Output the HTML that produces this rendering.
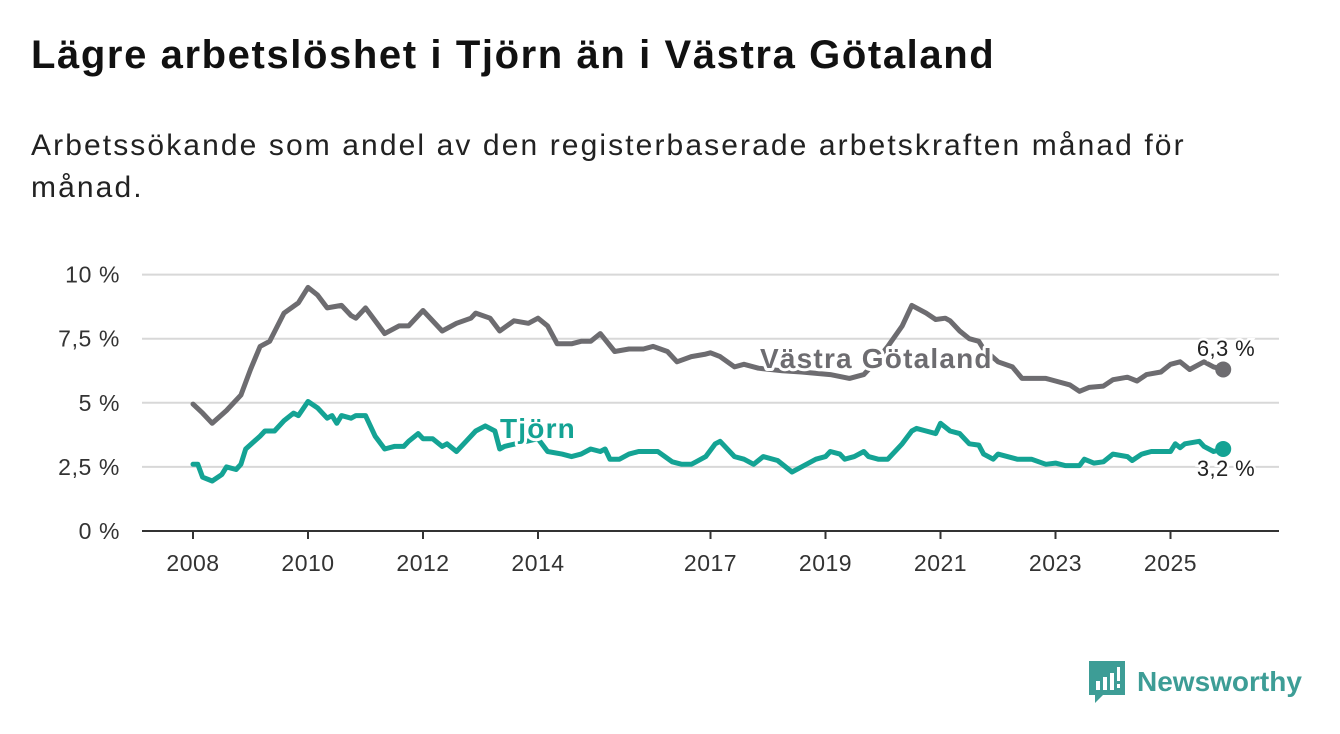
<!DOCTYPE html>
<html><head><meta charset="utf-8"><style>
body{margin:0;width:1340px;height:734px;background:#fff;font-family:"Liberation Sans",sans-serif;overflow:hidden;position:relative}
h1{position:absolute;left:31px;top:33px;margin:0;font-size:40px;letter-spacing:1.6px;font-weight:bold;color:#111;white-space:nowrap}
.sub{position:absolute;left:31px;top:125px;margin:0;font-size:30px;letter-spacing:2.1px;line-height:42px;color:#222;width:1200px}
svg{position:absolute;left:0;top:0}
.brand{position:absolute;left:1089px;top:661px;display:flex;align-items:center;color:#3d9d96;font-size:28px;font-weight:bold}
</style></head><body>
<h1>Lägre arbetslöshet i Tjörn än i Västra Götaland</h1>
<p class="sub">Arbetssökande som andel av den registerbaserade arbetskraften månad för månad.</p>
<svg id="chart" width="1340" height="734"></svg>
<div class="brand">
<svg width="36" height="42" style="position:static;margin-right:12px"><path d="M0 0H36V34H14L6 42V34H0Z" fill="#3d9d96"/><rect x="7" y="20" width="4" height="9" fill="#fff"/><rect x="14" y="16" width="4" height="13" fill="#fff"/><rect x="21" y="12" width="4" height="17" fill="#fff"/><rect x="28" y="6" width="3" height="14" fill="#fff"/><rect x="28" y="23" width="3" height="4" fill="#fff"/></svg>
<span>Newsworthy</span></div>
<script>
const yTicks=[0,2.5,5,7.5,10];
const yTickLabels=["0 %","2,5 %","5 %","7,5 %","10 %"];
const xTickYears=[2008,2010,2012,2014,2017,2019,2021,2023,2025];
const vgMonths=[0,2,4,7,10,12,14,16,19,22,24,26,28,31,33,34,36,40,43,45,48,52,55,58,59,62,64,67,70,72,74,76,79,81,83,85,88,91,94,96,99,101,104,107,108,110,113,115,118,123,127,133,137,140,142,145,148,150,153,155,157,158,160,162,164,165,168,171,173,178,180,183,185,187,190,192,195,197,199,202,204,206,208,211,213,215];
const vgValues=[4.95,4.6,4.2,4.7,5.3,6.3,7.2,7.4,8.5,8.9,9.5,9.2,8.7,8.8,8.4,8.3,8.7,7.7,8.0,8.0,8.6,7.8,8.1,8.3,8.5,8.3,7.8,8.2,8.1,8.3,8.0,7.3,7.3,7.4,7.4,7.7,7.0,7.1,7.1,7.2,7.0,6.6,6.8,6.9,6.95,6.8,6.4,6.5,6.35,6.25,6.2,6.1,5.95,6.1,6.5,7.2,8.0,8.8,8.5,8.25,8.3,8.2,7.8,7.5,7.4,7.1,6.6,6.4,5.95,5.95,5.85,5.7,5.45,5.6,5.65,5.9,6.0,5.85,6.1,6.2,6.5,6.6,6.3,6.6,6.4,6.3];
const tjMonths=[0,1,2,4,6,7,9,10,11,14,15,17,19,21,22,24,26,28,29,30,31,33,34,36,38,40,42,44,45,47,48,50,52,53,55,57,59,61,63,64,65,72,74,77,79,81,83,85,86,87,89,91,93,97,100,102,104,105,107,109,110,113,115,117,119,122,125,127,130,132,133,135,136,138,140,141,143,145,148,150,151,153,155,156,158,160,162,164,165,167,168,172,175,178,180,182,185,186,188,190,192,195,196,198,200,204,205,206,207,210,211,213,215];
const tjValues=[2.6,2.6,2.1,1.95,2.2,2.5,2.4,2.6,3.2,3.7,3.9,3.9,4.3,4.6,4.5,5.05,4.8,4.4,4.5,4.2,4.5,4.4,4.5,4.5,3.7,3.2,3.3,3.3,3.5,3.8,3.6,3.6,3.3,3.4,3.1,3.5,3.9,4.1,3.9,3.2,3.3,3.6,3.1,3.0,2.9,3.0,3.2,3.1,3.2,2.8,2.8,3.0,3.1,3.1,2.7,2.6,2.6,2.7,2.9,3.4,3.5,2.9,2.8,2.6,2.9,2.75,2.3,2.5,2.8,2.9,3.1,3.0,2.8,2.9,3.1,2.9,2.8,2.8,3.4,3.9,4.0,3.9,3.8,4.2,3.9,3.8,3.4,3.35,3.0,2.8,3.0,2.8,2.8,2.6,2.65,2.55,2.55,2.8,2.65,2.7,3.0,2.9,2.75,3.0,3.1,3.1,3.4,3.25,3.4,3.5,3.3,3.1,3.2];
const NS='http://www.w3.org/2000/svg';
const svg=document.getElementById('chart');
const x=m=>193+m*57.5/12;
const xYear=y=>193+(y-2008)*57.5;
const y=v=>531-v*25.64;
function el(t,a,txt){const e=document.createElementNS(NS,t);for(const k in a)e.setAttribute(k,a[k]);if(txt)e.textContent=txt;svg.appendChild(e);return e;}
yTicks.forEach((t,i)=>{
 if(t>0){const g=el('line',{x1:142,x2:1279,y1:y(t),y2:y(t),stroke:'#d8d8d8','stroke-width':2});
 
 }
 const l=el('text',{x:120,y:y(t)+8,'text-anchor':'end','font-size':23,'letter-spacing':0.6,fill:'#333'},yTickLabels[i]);
 
 
});
const ax=el('line',{x1:142,x2:1279,y1:531,y2:531,stroke:'#333','stroke-width':2});


xTickYears.forEach(yr=>{
 const tk=el('line',{x1:xYear(yr),x2:xYear(yr),y1:531,y2:539,stroke:'#333','stroke-width':2});
 
 
 const l=el('text',{x:xYear(yr),y:571,'text-anchor':'middle','font-size':23,'letter-spacing':0.5,fill:'#333'},String(yr));
 
 
});
function line(ms,vs,c,name){
 const d=ms.map((m,i)=>(i?'L':'M')+x(m).toFixed(1)+' '+y(vs[i]).toFixed(1)).join('');
 const p=el('path',{d:d,fill:'none',stroke:c,'stroke-width':5,'stroke-linejoin':'round','stroke-linecap':'round'});
 
 
 const n=ms.length-1;
 const dot=el('circle',{cx:x(ms[n]),cy:y(vs[n]),r:8,fill:c});
 
 
}
line(vgMonths,vgValues,'#6d6c70','vastra-gotaland');
line(tjMonths,tjValues,'#14a394','tjorn');
function lab(t,xx,yy,c,name){
 const e=el('text',{x:xx,y:yy,'font-size':28,'letter-spacing':1.2,'font-weight':'bold',fill:c,stroke:'#fff','stroke-width':6,'paint-order':'stroke','stroke-linejoin':'round'},t);
 
 
}
lab('Västra Götaland',760,368,'#6d6c70','vastra-gotaland-label');
lab('Tjörn',500,438,'#14a394','tjorn-label');
function endLab(t,xx,yy,name){
 const e=el('text',{x:xx,y:yy,'font-size':22,'letter-spacing':0.4,'text-anchor':'middle',fill:'#222',stroke:'#fff','stroke-width':5,'paint-order':'stroke'},t);
 
 
}
endLab('6,3 %',1226,356,'vastra-gotaland-end-label');
endLab('3,2 %',1226,476,'tjorn-end-label');
</script>
</body></html>
